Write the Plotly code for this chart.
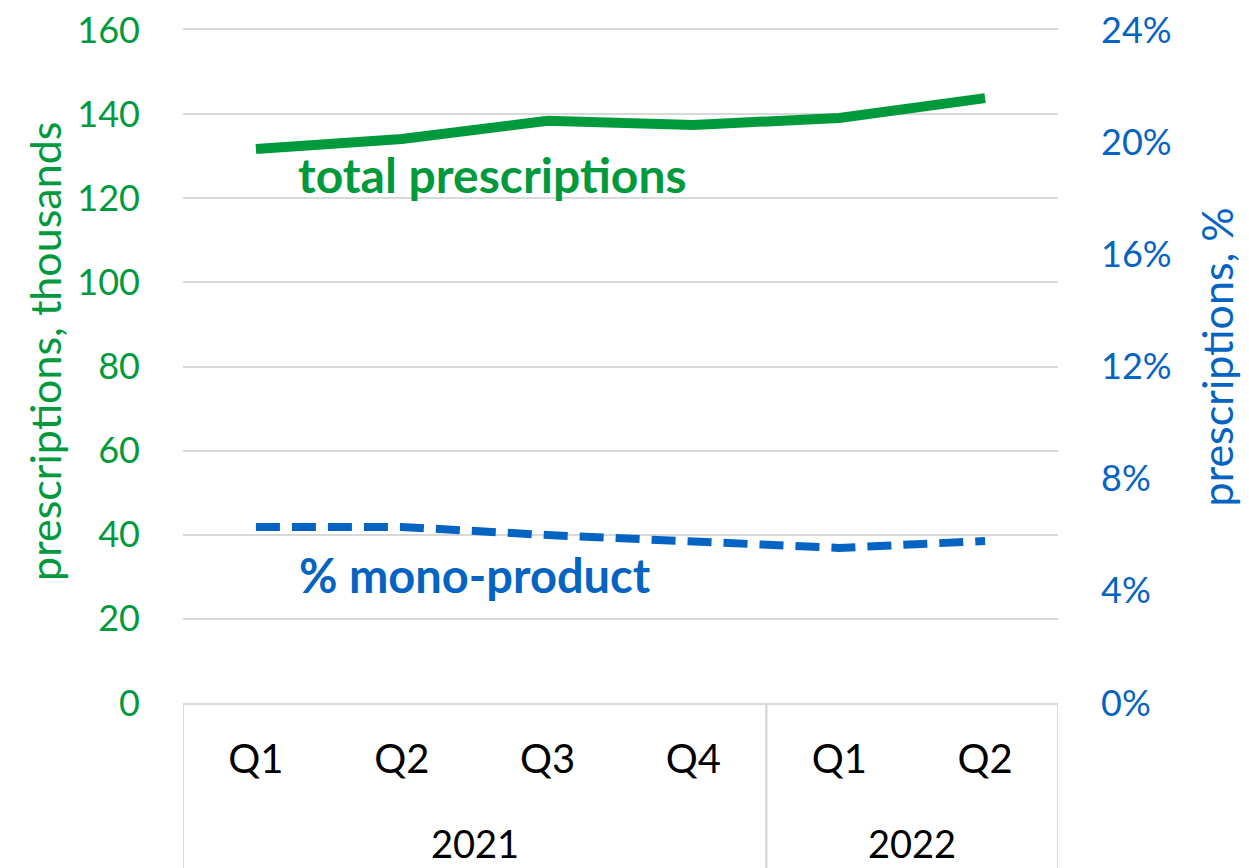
import plotly.graph_objects as go

years = ["2021", "2021", "2021", "2021", "2022", "2022"]
quarters = ["Q1", "Q2", "Q3", "Q4", "Q1", "Q2"]
total_prescriptions = [131.7, 134.1, 138.4, 137.4, 139.1, 143.8]
mono_product_pct = [6.28, 6.28, 5.99, 5.78, 5.53, 5.78]
left_ticks = [0, 20, 40, 60, 80, 100, 120, 140, 160]
right_ticks = [0, 4, 8, 12, 16, 20, 24]

GREEN = "#009a3d"
BLUE = "#0563c1"
GRID = "#d9d9d9"
FONT = "Lato"

xpos = list(range(len(quarters)))

# year groups
groups = []
for i, y in enumerate(years):
    if not groups or groups[-1][0] != y:
        groups.append([y, i, i])
    else:
        groups[-1][2] = i

fig = go.Figure()
fig.add_trace(go.Scatter(
    x=xpos, y=total_prescriptions, mode="lines",
    line=dict(color=GREEN, width=10), name="total prescriptions", yaxis="y",
))
fig.add_trace(go.Scatter(
    x=xpos, y=mono_product_pct, mode="lines",
    line=dict(color=BLUE, width=8, dash="24px,12px"), name="% mono-product", yaxis="y2",
))

shapes = []
annotations = []
for name, start, end in groups:
    annotations.append(dict(
        text=name, xref="x", yref="paper", x=(start + end) / 2, y=-0.208,
        showarrow=False, font=dict(size=38, color="black", family=FONT),
        xanchor="center", yanchor="middle"))
    for b in (start - 0.5, end + 0.5):
        shapes.append(dict(type="line", xref="x", yref="paper", x0=b, x1=b,
                           y0=0, y1=-0.3, line=dict(color=GRID, width=2), layer="below"))

annotations += [
    dict(text="<b>total prescriptions</b>", xref="paper", yref="paper", x=0.354, y=0.785,
         showarrow=False, font=dict(size=48, color=GREEN, family=FONT), xanchor="center", yanchor="middle"),
    dict(text="<b>% mono-product</b>", xref="paper", yref="paper", x=0.334, y=0.19,
         showarrow=False, font=dict(size=47, color=BLUE, family=FONT), xanchor="center", yanchor="middle"),
    dict(text="prescriptions, thousands", xref="paper", yref="paper", x=-0.159, y=0.523,
         textangle=-90, showarrow=False, font=dict(size=43, color=GREEN, family=FONT),
         xanchor="center", yanchor="middle"),
    dict(text="prescriptions, %", xref="paper", yref="paper", x=1.181, y=0.514,
         textangle=-90, showarrow=False, font=dict(size=43, color=BLUE, family=FONT),
         xanchor="center", yanchor="middle"),
]

fig.update_layout(
    width=1249, height=868,
    margin=dict(l=175, r=199, t=22, b=173),
    plot_bgcolor="white", paper_bgcolor="white",
    showlegend=False,
    font=dict(family=FONT, size=32, color="black"),
    xaxis=dict(
        range=[-0.5, len(quarters) - 0.5], tickvals=xpos, ticktext=quarters,
        showgrid=False, showline=True, mirror=True, linecolor=GRID, linewidth=2, zeroline=False,
        tickfont=dict(size=40, color="black", family=FONT),
        ticks="", ticklabelstandoff=20, automargin=False,
    ),
    yaxis=dict(
        range=[0, 160], tickvals=left_ticks, ticktext=[str(v) for v in left_ticks],
        showgrid=True, gridcolor=GRID, gridwidth=2, zeroline=False,
        tickfont=dict(size=36, color=GREEN, family=FONT),
        ticklabelstandoff=42, automargin=False, ticklabeloverflow="allow",
    ),
    yaxis2=dict(
        range=[0, 24], tickvals=right_ticks, ticktext=[f"{v}%" for v in right_ticks],
        overlaying="y", side="right", showgrid=False, zeroline=False,
        tickfont=dict(size=36, color=BLUE, family=FONT),
        ticklabelstandoff=42, automargin=False, ticklabeloverflow="allow",
    ),
    shapes=shapes,
    annotations=annotations,
)

fig.write_html("out.html")
